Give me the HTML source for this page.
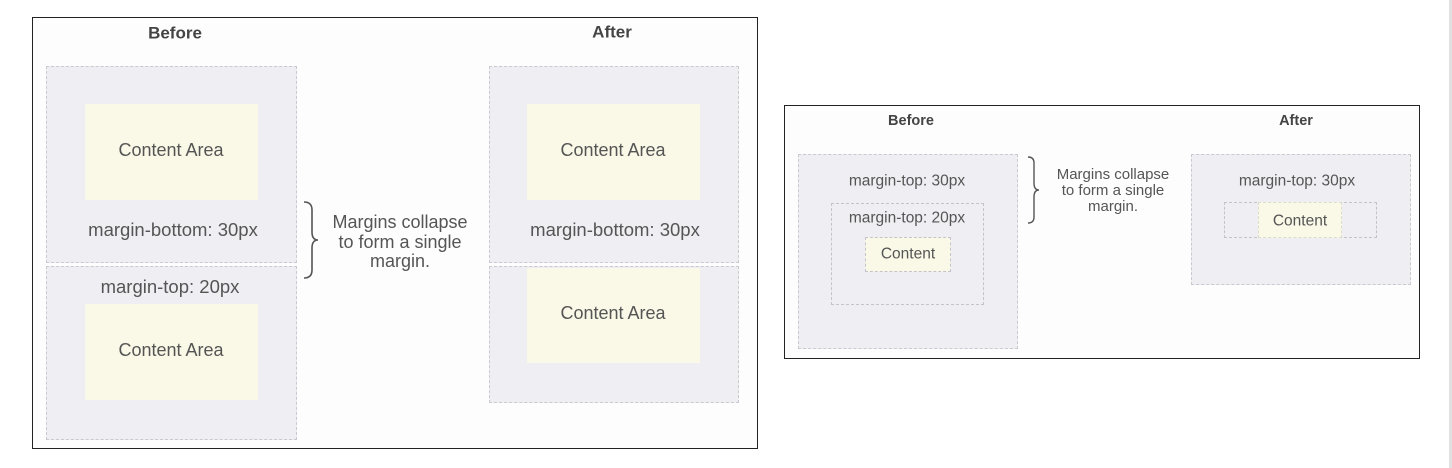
<!DOCTYPE html>
<html><head><meta charset="utf-8"><style>
body{margin:0;width:1452px;height:468px;background:#fff;position:relative;overflow:hidden;font-family:"Liberation Sans",Arial,sans-serif;color:#555}
div{position:absolute;box-sizing:border-box}
.frame{border:1.5px solid #222;background:#fdfdfd}
.box{background:#eeeef3;border:1px dashed #c9c9cf}
.inner{border:1px dashed #c3c3c9}
.c{background:#faf8e6}
.t{white-space:nowrap;text-align:center;transform:translate(-50%,-50%);line-height:1}
.h{font-weight:bold;color:#444}
</style></head><body>
<div style="left:1449px;top:0;width:3px;height:468px;background:#e0e0e0"></div>

<!-- left diagram -->
<div class="frame" style="left:32px;top:17px;width:726px;height:432px"></div>
<div class="t h" style="left:175px;top:33px;font-size:17px">Before</div>
<div class="t h" style="left:612px;top:32px;font-size:17px">After</div>
<div class="box" style="left:46px;top:66px;width:251px;height:197px"></div>
<div class="box" style="left:46px;top:266px;width:251px;height:174px"></div>
<div class="c" style="left:85px;top:104px;width:173px;height:96px"></div>
<div class="c" style="left:85px;top:304px;width:173px;height:96px"></div>
<div class="t" style="left:171px;top:150px;font-size:18px">Content Area</div>
<div class="t" style="left:173px;top:230px;font-size:18.5px">margin-bottom: 30px</div>
<div class="t" style="left:170px;top:287px;font-size:18.5px">margin-top: 20px</div>
<div class="t" style="left:171px;top:350px;font-size:18px">Content Area</div>

<div class="box" style="left:489px;top:66px;width:250px;height:197px"></div>
<div class="box" style="left:489px;top:266px;width:250px;height:137px"></div>
<div class="c" style="left:527px;top:104px;width:173px;height:96px"></div>
<div class="c" style="left:527px;top:268px;width:173px;height:95px"></div>
<div class="t" style="left:613px;top:150px;font-size:18px">Content Area</div>
<div class="t" style="left:615px;top:230px;font-size:18.5px">margin-bottom: 30px</div>
<div class="t" style="left:613px;top:313px;font-size:18px">Content Area</div>

<svg style="position:absolute;left:300px;top:200px" width="24" height="82"><path d="M4 2 Q12 2 12 10 L12 32 Q12 40 18 40 Q12 40 12 48 L12 70 Q12 78 4 78" fill="none" stroke="#555" stroke-width="1.6"/></svg>
<div class="t" style="left:400px;top:242px;font-size:18px;line-height:19.5px">Margins collapse<br>to form a single<br>margin.</div>

<!-- right diagram -->
<div class="frame" style="left:784px;top:105px;width:636px;height:254px"></div>
<div class="t h" style="left:911px;top:121px;font-size:14.5px">Before</div>
<div class="t h" style="left:1296px;top:121px;font-size:14.5px">After</div>
<div class="box" style="left:798px;top:154px;width:220px;height:195px"></div>
<div class="inner" style="left:831px;top:203px;width:153px;height:102px"></div>
<div class="c inner" style="left:865px;top:237px;width:86px;height:35px"></div>
<div class="t" style="left:907px;top:181px;font-size:15.5px">margin-top: 30px</div>
<div class="t" style="left:907px;top:218px;font-size:15.5px">margin-top: 20px</div>
<div class="t" style="left:908px;top:254px;font-size:15.5px">Content</div>

<div class="box" style="left:1191px;top:154px;width:220px;height:131px"></div>
<div class="inner" style="left:1224px;top:202px;width:153px;height:36px"></div>
<div class="c" style="left:1258px;top:202px;width:84px;height:36px;border:1px dashed #dcdccc"></div>
<div class="t" style="left:1297px;top:181px;font-size:15.5px">margin-top: 30px</div>
<div class="t" style="left:1300px;top:221px;font-size:15.5px">Content</div>

<svg style="position:absolute;left:1025px;top:155px" width="18" height="72"><path d="M3 2 Q9 2 9 8 L9 28 Q9 35 14 35 Q9 35 9 42 L9 62 Q9 68 3 68" fill="none" stroke="#555" stroke-width="1.4"/></svg>
<div class="t" style="left:1113px;top:191px;font-size:15px;line-height:16px">Margins collapse<br>to form a single<br>margin.</div>
</body></html>
